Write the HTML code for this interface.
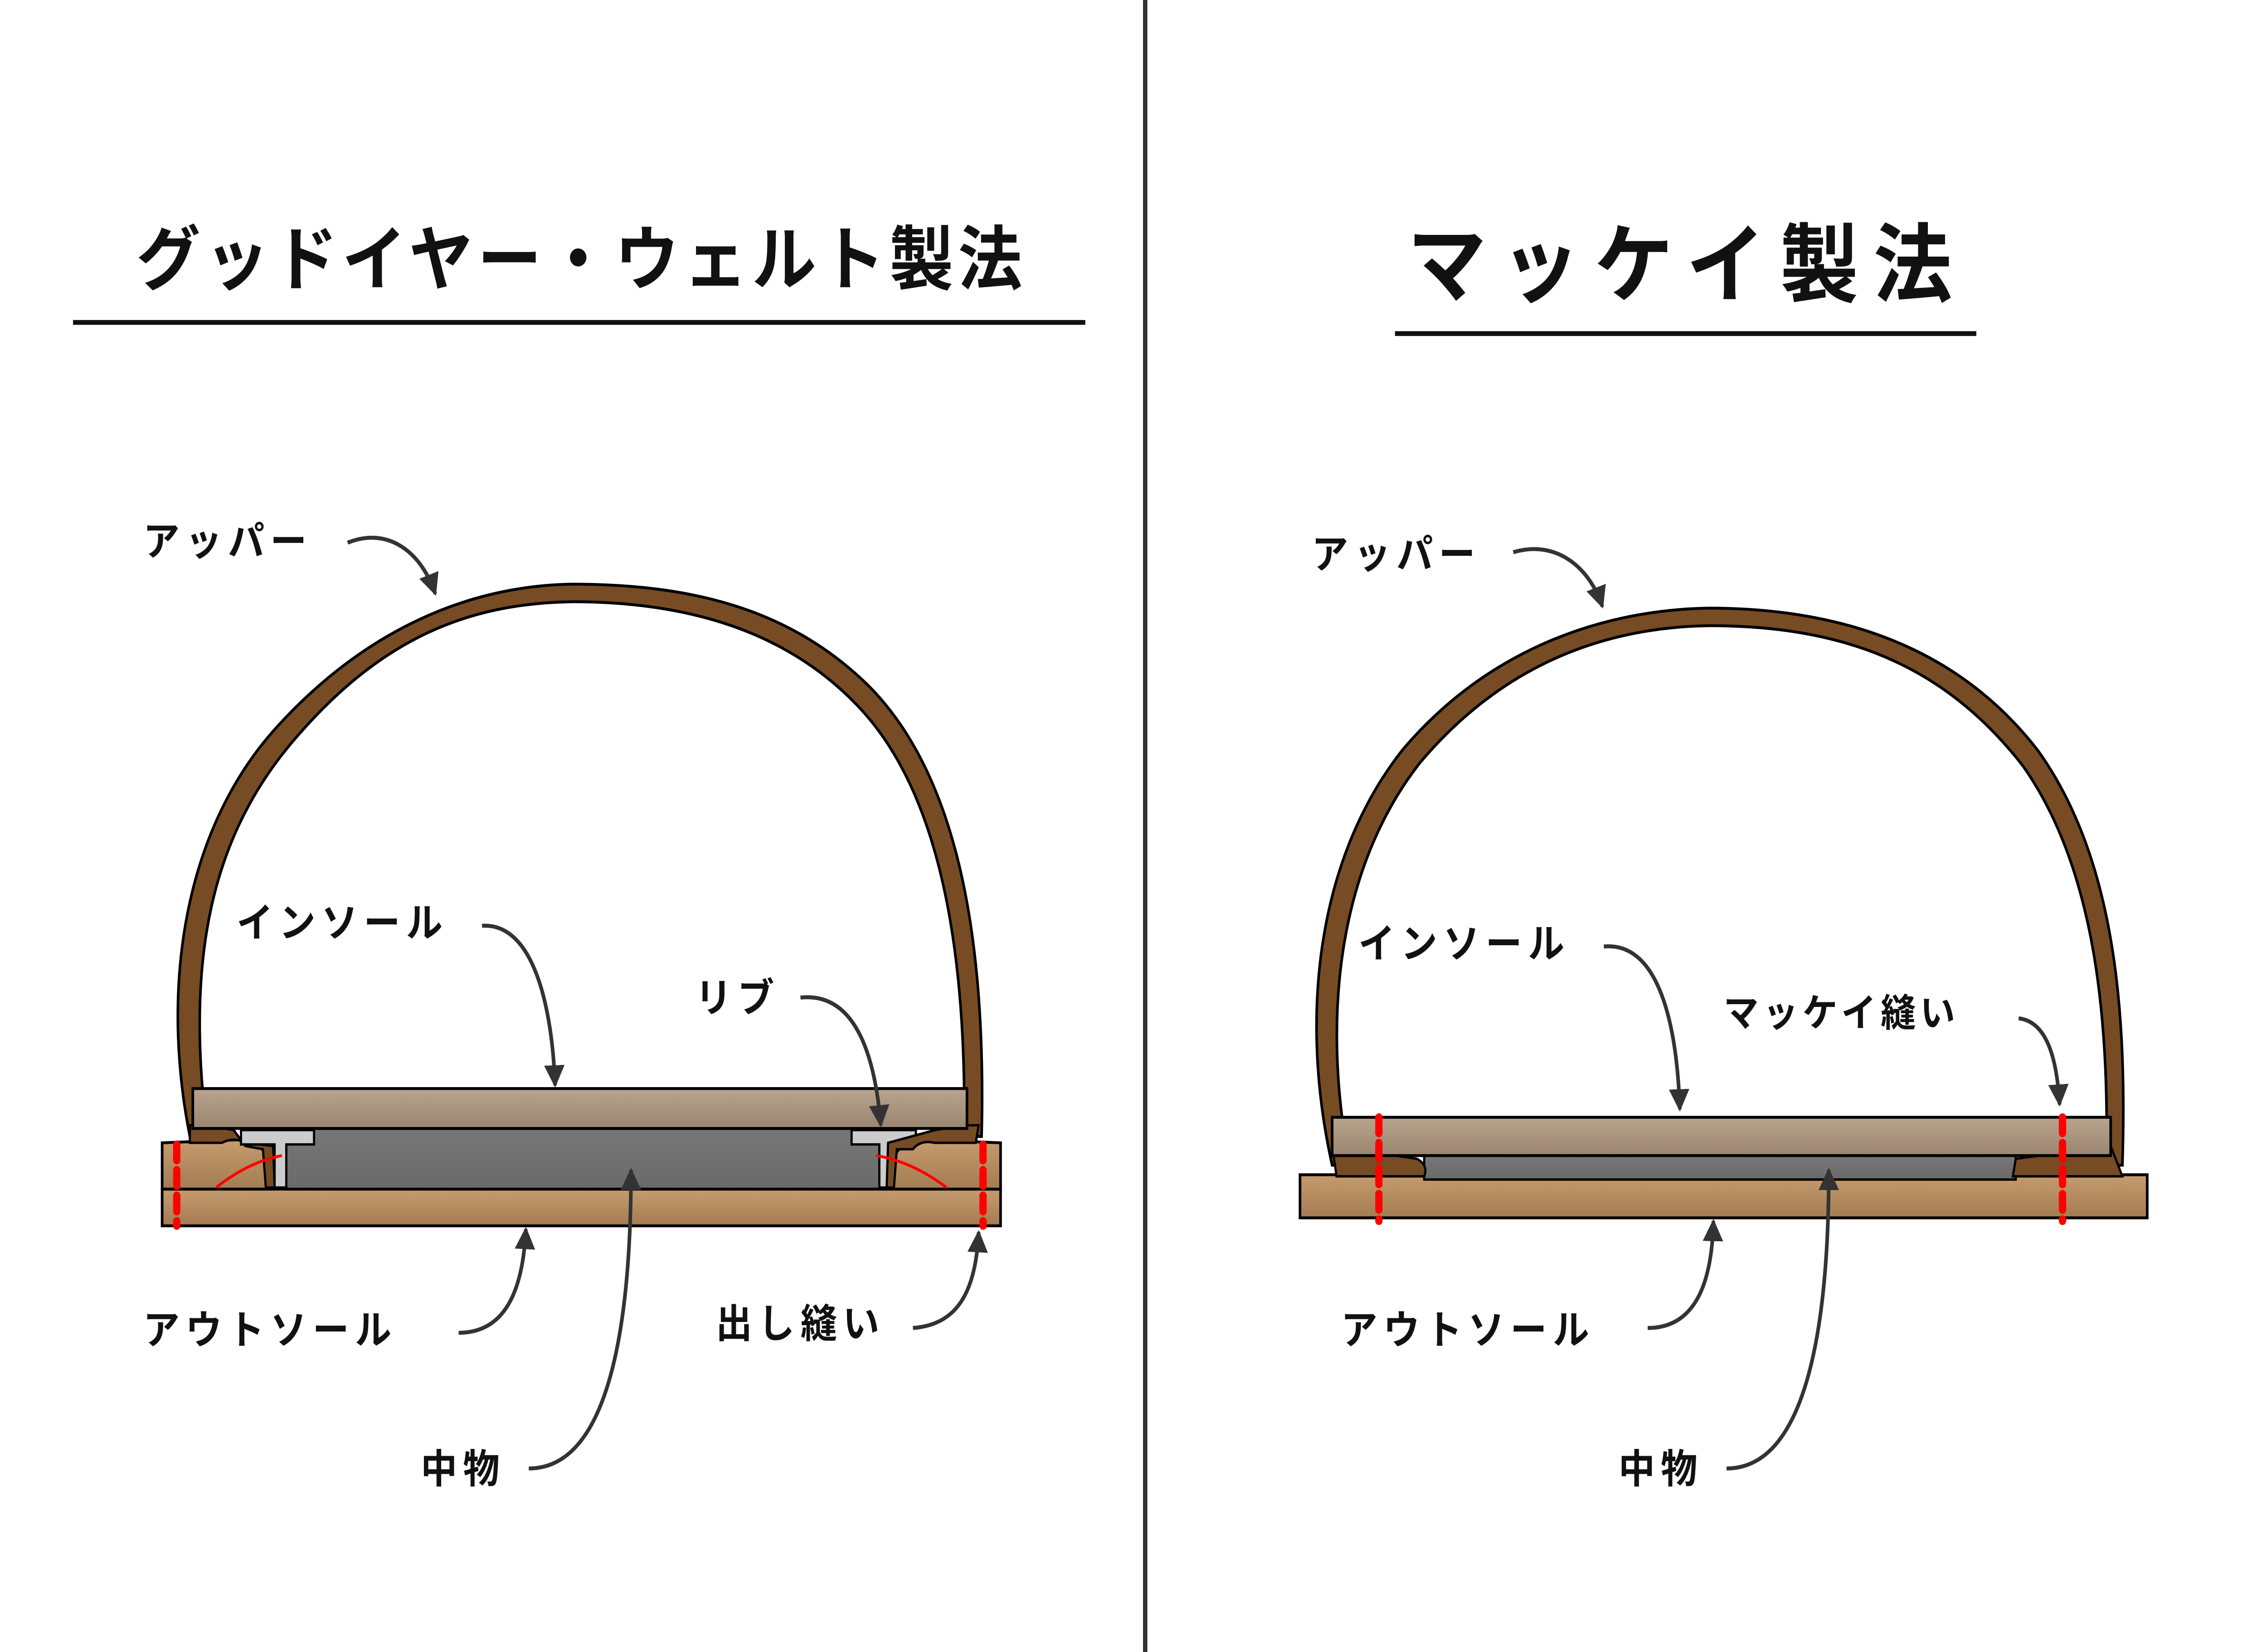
<!DOCTYPE html>
<html><head><meta charset="utf-8"><style>
html,body{margin:0;padding:0;background:#fff;width:100%;height:100%;overflow:hidden}
svg{display:block;position:fixed;left:0;top:0;width:100vw;height:100vh}
text{font-family:"Liberation Sans","Noto Sans CJK JP",sans-serif;font-weight:bold;fill:#111}
</style></head><body>
<svg viewBox="0 0 1552 1035" preserveAspectRatio="none" xmlns="http://www.w3.org/2000/svg">
<defs>
<linearGradient id="ins" x1="0" y1="0" x2="0" y2="1"><stop offset="0" stop-color="#b9a48d"/><stop offset="1" stop-color="#9a8570"/></linearGradient>
<linearGradient id="sole" x1="0" y1="0" x2="0" y2="1"><stop offset="0" stop-color="#c69c6e"/><stop offset="1" stop-color="#a47c52"/></linearGradient>
<linearGradient id="fil" x1="0" y1="0" x2="0" y2="1"><stop offset="0" stop-color="#777"/><stop offset="1" stop-color="#6a6a6a"/></linearGradient>
<marker id="a2" viewBox="0 0 10 10" refX="9" refY="5" markerWidth="14" markerHeight="14" orient="auto" markerUnits="userSpaceOnUse"><path d="M0,0 L10,5 L0,10 z" fill="#333"/></marker>
</defs>
<rect width="1552" height="1035" fill="#fff"/>
<line x1="784" y1="0" x2="784" y2="1035" stroke="#333" stroke-width="3"/>

<text x="398" y="178" font-size="44" text-anchor="middle" letter-spacing="3">グッドイヤー・ウェルト製法</text>
<line x1="50" y1="202" x2="743" y2="202" stroke="#111" stroke-width="3"/>
<text x="1155" y="185" font-size="54" text-anchor="middle" letter-spacing="10">マッケイ製法</text>
<line x1="955" y1="209" x2="1353" y2="209" stroke="#111" stroke-width="3"/>

<!-- LEFT SHOE -->
<path d="M130,712 C110,620 125,520 190,455 C250,395 320,367 392,366 C470,366 540,380 595,430 C660,490 675,600 672,712 L660,712 C662,600 645,500 590,445 C540,395 470,377 392,377 C320,378 260,400 200,465 C140,530 128,610 142,712 Z" fill="#774c24" stroke="#000" stroke-width="1.8"/>
<rect x="111" y="745" width="574" height="23" fill="url(#sole)" stroke="#000" stroke-width="1.8"/>
<path d="M111,716 L165,714 Q180,716 185,728 L190,745 L111,745 Z" fill="url(#sole)" stroke="#000" stroke-width="1.8"/>
<path d="M685,716 L630,714 Q615,716 610,728 L605,745 L685,745 Z" fill="url(#sole)" stroke="#000" stroke-width="1.8"/>
<rect x="195" y="707" width="410" height="38" fill="url(#fil)" stroke="#000" stroke-width="1.8"/>
<path d="M130,705 L142,705 L160,708 L168,718 L180,720 L182,744 L188,744 L187,718 L168,716 Q160,712 152,716 L130,716 Z" fill="#774c24" stroke="#000" stroke-width="1.5"/>
<path d="M165,708 L215,708 L215,717 L196,717 L196,744 L188,744 L188,717 L165,717 Z" fill="#ccc" stroke="#000" stroke-width="1.5"/>
<path d="M583,708 L627,708 L627,717 L610,717 L610,744 L602,744 L602,717 L583,717 Z" fill="#ccc" stroke="#000" stroke-width="1.5"/>
<path d="M660,705 L670,705 L668,716 L640,716 Q630,714 625,720 L614,720 L612,744 L607,744 L608,716 L640,708 Z" fill="#774c24" stroke="#000" stroke-width="1.5"/>
<rect x="132" y="682" width="530" height="25" fill="url(#ins)" stroke="#000" stroke-width="1.8"/>
<path d="M148,744 Q170,728 193,724" stroke="#f00" stroke-width="1.8" fill="none"/>
<path d="M648,744 Q625,728 600,724" stroke="#f00" stroke-width="1.8" fill="none"/>
<line x1="121" y1="717" x2="121" y2="768" stroke="#f00" stroke-width="5" stroke-dasharray="10,6" stroke-linecap="round"/>
<line x1="673" y1="717" x2="673" y2="768" stroke="#f00" stroke-width="5" stroke-dasharray="10,6" stroke-linecap="round"/>

<text x="98" y="348" font-size="25" letter-spacing="4">アッパー</text>
<path d="M238,340 C265,330 288,345 298,372" stroke="#333" stroke-width="2.5" fill="none" marker-end="url(#a2)"/>
<text x="162" y="587" font-size="25" letter-spacing="4">インソール</text>
<path d="M330,580 C365,578 378,630 380,680" stroke="#333" stroke-width="2.5" fill="none" marker-end="url(#a2)"/>
<text x="476" y="634" font-size="25" letter-spacing="4">リブ</text>
<path d="M548,625 C580,622 598,650 603,705" stroke="#333" stroke-width="2.5" fill="none" marker-end="url(#a2)"/>
<text x="98" y="842" font-size="25" letter-spacing="4">アウトソール</text>
<path d="M314,835 C345,835 358,810 360,770" stroke="#333" stroke-width="2.5" fill="none" marker-end="url(#a2)"/>
<text x="490" y="838" font-size="25" letter-spacing="4">出し縫い</text>
<path d="M625,832 C655,830 668,810 670,772" stroke="#333" stroke-width="2.5" fill="none" marker-end="url(#a2)"/>
<text x="288" y="929" font-size="25" letter-spacing="4">中物</text>
<path d="M362,920 C420,920 432,820 432,733" stroke="#333" stroke-width="2.5" fill="none" marker-end="url(#a2)"/>

<!-- RIGHT SHOE -->
<path d="M912,730 C890,640 900,540 960,470 C1020,405 1100,382 1170,381 C1260,381 1340,405 1395,470 C1450,540 1456,640 1453,730 L1442,730 C1444,640 1435,545 1385,480 C1330,415 1260,392 1170,392 C1100,393 1030,415 972,478 C915,545 905,640 924,730 Z" fill="#774c24" stroke="#000" stroke-width="1.8"/>
<rect x="890" y="736" width="580" height="27" fill="url(#sole)" stroke="#000" stroke-width="1.8"/>
<rect x="975" y="724" width="405" height="15" fill="url(#fil)" stroke="#000" stroke-width="1.5"/>
<path d="M912,718 L970,726 Q978,730 975,737 L915,737 Z" fill="#774c24" stroke="#000" stroke-width="1.5"/>
<path d="M1445,718 L1380,726 L1378,737 L1453,737 Z" fill="#774c24" stroke="#000" stroke-width="1.5"/>
<rect x="912" y="700" width="533" height="24" fill="url(#ins)" stroke="#000" stroke-width="1.8"/>
<line x1="944" y1="700" x2="944" y2="765" stroke="#f00" stroke-width="5" stroke-dasharray="10,6" stroke-linecap="round"/>
<line x1="1412" y1="700" x2="1412" y2="765" stroke="#f00" stroke-width="5" stroke-dasharray="10,6" stroke-linecap="round"/>

<text x="898" y="356" font-size="25" letter-spacing="4">アッパー</text>
<path d="M1036,346 C1065,338 1088,355 1097,380" stroke="#333" stroke-width="2.5" fill="none" marker-end="url(#a2)"/>
<text x="930" y="600" font-size="25" letter-spacing="4">インソール</text>
<path d="M1098,593 C1135,590 1148,640 1150,695" stroke="#333" stroke-width="2.5" fill="none" marker-end="url(#a2)"/>
<text x="1180" y="643" font-size="24" letter-spacing="3">マッケイ縫い</text>
<path d="M1382,638 C1400,640 1408,660 1410,692" stroke="#333" stroke-width="2.5" fill="none" marker-end="url(#a2)"/>
<text x="918" y="842" font-size="25" letter-spacing="4">アウトソール</text>
<path d="M1128,832 C1160,832 1172,805 1173,765" stroke="#333" stroke-width="2.5" fill="none" marker-end="url(#a2)"/>
<text x="1108" y="929" font-size="25" letter-spacing="4">中物</text>
<path d="M1182,920 C1240,920 1252,820 1252,733" stroke="#333" stroke-width="2.5" fill="none" marker-end="url(#a2)"/>
</svg>
</body></html>
